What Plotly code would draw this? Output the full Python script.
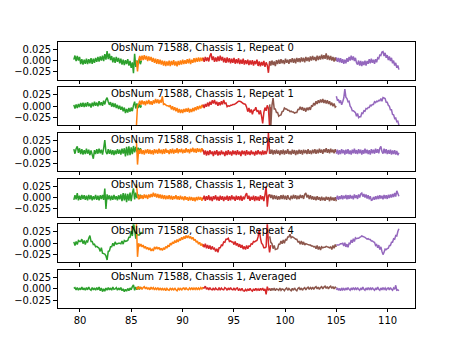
import numpy as np
import plotly.graph_objects as go

# Frequency ranges (GHz) covered by the five bands
SEG_START = [79.4, 85.5, 92.0, 98.5, 105.0]
SEG_END = [86.0, 92.0, 98.6, 105.0, 111.1]
COLORS = ["#2ca02c", "#ff7f0e", "#d62728", "#8c564b", "#9467bd"]
LABELS = ["ObsNum 71588, Chassis 1, Repeat 0", "ObsNum 71588, Chassis 1, Repeat 1",
          "ObsNum 71588, Chassis 1, Repeat 2", "ObsNum 71588, Chassis 1, Repeat 3",
          "ObsNum 71588, Chassis 1, Repeat 4", "ObsNum 71588, Chassis 1, Averaged"]
X_TICKS = [80, 85, 90, 95, 100, 105, 110]
Y_TICKS = [-0.025, 0.0, 0.025]
Y_TICKTEXT = ["\u22120.025", "0.000", "0.025"]
Y_UNIT = 1e-3  # values below are in units of 1e-3

# Repeat 0
rep0_green = [2, 11, -1, 10, 0, 8, -8, 3, -9, 2, -7, 4, -8, 3, -6, 5, -7, 4, -5, 6,
              -3, 8, -2, 9, 0, 11, -1, 14, 2, 21, 3, 15, 1, 10, -4, 7, -5, 8, -3, 6,
              -6, 4, -9, 2, -10, 1, -8, 3, -11, -1, -16, -4, -28, 15, -14, 0, -9, 3, -8, 0]
rep0_orange = [0, -24, 1, 10, 0, 11, 1, 12, 2, 10, -1, 9, 0, 8, -3, 6, -5, 4, -7, 3,
               -8, 2, -9, 0, -11, -1, -12, -2, -11, 0, -12, -1, -10, 1, -11, -2, -13, -1, -10, 0,
               -9, 2, -8, 1, -7, 3, -6, 4, -8, 2, -5, 5, -4, 6, -3, 7, -2, 6, -1, 7]
rep0_red = [6, -3, 8, -1, 7, -2, 10, 16, 1, 9, -3, 7, -2, 9, -1, 11, 0, 8, -4, 6,
            -5, 7, -4, 5, -6, 4, -5, 6, -7, 3, -6, 5, -8, 2, -7, 4, -9, 1, -8, 2,
            -10, 0, -9, 1, -11, -1, -8, 2, -12, -2, -13, -3, -11, -1, -14, -4, -10, -27, -2, -10]
rep0_brown = [-1, -11, 0, -10, -2, -12, 1, -8, 2, -7, 3, -6, 1, -8, 4, -5, 2, -7, 3, -4,
              5, -5, 4, -6, 6, -3, 5, -4, 7, -2, 6, -4, 8, -1, 7, -2, 9, 0, 10, 1,
              8, -1, 11, 1, 10, 2, 13, 3, 12, 4, 16, 2, 11, 1, 10, 0, 8, -2, 7, -1]
rep0_purple = [7, -3, 6, -4, 5, -5, 3, -7, 2, -6, 5, -3, 8, 0, 11, 1, 9, -1, 6, -5,
               -9, 0, -11, -1, -12, -2, -10, 0, -11, -1, -7, 3, -6, 4, -5, 2, -7, 3, -4, 6,
               4, 12, 11, 19, 20, 10, 17, 6, 12, 1, 9, -1, 6, -6, 0, -11, -5, -16, -11, -20]

# Repeat 1
rep1_green = [3, -5, 4, -4, 5, -2, 7, -1, 8, -2, 7, -1, 9, 0, 6, -3, 8, 0, 10, 1,
              8, 0, 11, 2, 9, 1, 12, 4, 14, 19, 10, 3, 9, -1, 7, -2, 6, -4, 3, -6,
              1, -8, -1, -11, -3, -15, -6, -14, -4, -12, -3, -11, 2, 10, -5, 6, -4, 5, -3, 2]
rep1_orange = [-45, 2, 4, 12, 3, 13, 4, 11, 2, 12, 5, 14, 4, 11, 3, 13, 6, 16, 7, 15,
               6, 14, 8, 22, 4, 5, 3, 1, 1, -1, 2, -7, 0, -9, -2, -11, -4, -14, -6, -15,
               -7, -15, -6, -13, -5, -12, -4, -14, -6, -13, -4, -11, -2, -9, 0, -7, 1, -5, 3, -3]
rep1_red = [4, -4, 5, -1, 8, 0, 10, 3, 13, 6, 14, 4, 10, 1, 9, 2, 11, 4, 14, 6,
            7, -1, 1, 0, 2, 2, 4, 4, 5, 7, 9, 11, 11, 10, 8, 6, 5, 4, -2, -12,
            -4, -14, -7, -18, -9, -9, -2, -11, -10, -18, -9, -22, -38, -14, -3, -10, 2, -5, -45, -2]
rep1_brown = [4, -45, 2, 18, -6, -6, -14, -14, -22, -20, -19, -12, -11, -4, -6, -6, -9, -9, -12, -11,
              -13, -13, -15, -14, -14, -7, -7, -1, -8, -2, -10, -4, -12, -3, -9, -2, -8, 1, 0, 7,
              2, 11, 5, 13, 7, 15, 8, 16, 7, 14, 6, 13, 5, 11, 2, 8, 0, 6, -2, 0]
rep1_purple = [22, 13, 14, 7, 13, 3, 10, 18, 38, 20, 17, 10, 11, 0, -3, -10, -10, -12, -14, -22,
               -16, -25, -23, -23, -15, -16, -10, -11, -5, -6, -3, -3, 2, 1, 4, 4, 10, 8, 11, 10,
               13, 12, 17, 11, 19, 18, 17, 9, 9, 2, 0, -8, -8, -18, -19, -27, -26, -34, -33, -42]

# Repeat 2
rep2_green = [6, -4, 7, 12, -2, 8, -5, 6, -6, 4, -5, 7, -4, 5, -7, 3, -6, -15, 4, -5,
              6, -4, 7, -3, 5, -6, 8, 26, 0, -5, 6, -4, 5, -6, 4, -7, 3, -5, 6, -4,
              5, -6, 7, -4, 8, -10, 11, -8, 12, -7, 10, -5, 13, -1, 11, 0, 9, 1, 8, 0]
rep2_orange = [25, -28, 5, -4, 6, -5, 4, -6, 5, -3, 6, -4, 5, -5, 4, -6, 6, -3, 5, -4,
               7, -3, 5, -5, 6, -4, 7, -2, 4, -5, 6, -3, 7, -4, 5, -2, 8, -3, 6, -1,
               7, -3, 5, -2, 8, -1, 6, -3, 7, 0, 9, -1, 7, -2, 8, 0, 7, -1, 8, 1]
rep2_red = [5, -6, 3, -8, 2, -7, 4, -5, 1, -9, 2, -6, 4, -8, 1, -7, 3, -5, 0, -9,
            2, -7, 4, -6, 1, -8, 3, -5, 2, -7, 4, -6, 1, -9, 3, -5, 2, -8, 4, -6,
            1, -7, 3, -5, 0, -8, 2, -6, 4, -5, 1, -7, 3, -6, 2, -5, 4, 42, -4, 2]
rep2_brown = [6, -4, 5, -6, 4, -5, 5, -4, 3, -7, 4, -5, 5, -6, 3, -4, 6, -5, 2, -6,
              5, -4, 4, -7, 3, -5, 5, -4, 4, -6, 5, -3, 4, -5, 6, -4, 3, -5, 5, -3,
              6, -4, 5, -3, 7, -2, 5, -4, 6, -1, 8, -2, 6, -3, 7, -1, 5, -3, 6, -1]
rep2_purple = [-4, 5, -6, 4, -5, 6, -3, 4, -6, 5, -4, 6, -5, 3, -6, 5, -3, 7, -4, 4,
               -5, 6, -3, 5, -6, 4, -4, 7, -3, 5, -5, 4, -6, 6, -3, 5, -4, 7, -2, 6,
               -3, 8, 12, 1, -4, 7, -3, 6, -5, 4, -4, 5, -6, 3, -5, 4, -6, 2, -7, -2]

# Repeat 3
rep3_green = [-5, 5, -4, 10, -6, 4, -5, 6, -3, 5, -5, 4, -6, 6, -4, 5, -6, 3, -4, 6,
              -5, 4, -6, 5, -3, 6, -5, 20, -25, 7, -4, 5, -6, 4, -5, 6, -4, 3, -6, 5,
              -4, 7, -8, 10, -6, 9, -10, 8, -7, 11, -8, 10, 20, -4, 11, -1, 7, -3, 6, -1]
rep3_orange = [30, 5, -4, 6, -2, 5, -3, 7, -1, 6, -3, 7, 0, 8, 1, 11, 2, 9, 0, 8,
               -1, 7, -2, 6, -3, 5, -4, 4, -3, 5, -4, 4, -5, 3, -3, 5, -4, 3, -5, 4,
               -4, 2, -6, 3, -5, 1, -7, 2, -6, 1, -7, 0, -8, 1, -6, 2, -5, 1, -7, 0]
rep3_red = [-4, 4, -7, 3, -5, 5, -6, 2, -8, 3, -4, 5, -6, 2, -7, 4, -5, 3, -8, 2,
            -5, 4, -7, 3, -6, 5, -4, 2, -7, 4, -5, 3, -6, 4, -7, 2, -4, 5, 10, -3,
            4, -7, 2, -5, 4, -8, 3, -6, 2, -7, 5, -4, 3, -8, 6, 25, -20, 5, 6, 0]
rep3_brown = [7, -1, 6, -4, 5, -3, 4, -5, 3, -4, 5, -3, 6, -4, 4, -5, 5, -2, -4, 4,
              -3, 6, -2, 5, -4, 4, -3, 6, -1, 5, -3, 7, 10, 0, 6, -3, 5, -4, 3, -5,
              2, -6, 3, -5, 1, -7, 2, -6, 0, -7, 2, -5, 1, -8, 2, -6, 0, -7, 1, -8]
rep3_purple = [-4, 4, -5, 3, -3, 5, -4, 4, -2, 6, -4, 5, -3, 6, -2, 4, -4, 7, -1, 5,
               -3, 7, 0, 8, 10, 2, 8, 0, 7, -2, 5, -4, 3, -6, -5, 1, -5, 3, -4, 4,
               -3, 5, -2, 4, -4, 6, -2, 5, -3, 6, -1, 7, 0, 8, 1, 10, 2, 15, 9, 3]

# Repeat 4
rep4_green = [3, -5, 4, -3, 6, 4, 4, 9, -1, 6, -3, 5, 3, 11, 17, 4, 4, -3, -2, -8,
              -7, -9, -11, -18, -10, -22, -23, -24, -28, -37, -18, -17, -8, -8, 0, -6, 3, -2, -1, 0,
              0, -1, 5, -2, 6, 4, 5, 6, 13, 13, 27, 16, 45, 30, 10, 20, 18, 18, 21, 25]
rep4_orange = [45, -30, 0, -7, -2, -8, -4, -11, -7, -13, -9, -15, -10, -17, -13, -17, -8, -13, -8, -13,
               -9, -15, -11, -16, -10, -14, -7, -11, -4, -8, 0, -4, 3, -1, 6, 1, 8, 3, 10, 6,
               13, 8, 15, 10, 17, 12, 17, 11, 15, 9, 13, 6, 9, 2, 5, -2, 2, -5, -1, -8]
rep4_red = [-2, -9, -1, -11, -4, -12, -5, -14, -7, -13, -11, -18, -12, -20, -10, -10, -4, -5, 3, 2,
            9, 9, 11, 4, 5, 3, 3, -3, 4, -5, 0, -8, -2, -10, -4, -13, -7, -14, -5, -12,
            -6, -7, -1, -2, 4, 3, 5, 6, 14, 30, 12, 0, -3, -10, -10, -8, 45, 0, -20, -4]
rep4_brown = [15, 2, -1, -12, -5, -14, -13, -12, -2, -2, 5, -1, 7, 0, 8, 7, 14, 14, 20, 12,
              14, 13, 11, 9, 9, 3, 4, -2, 5, -3, 3, -4, -1, -2, -3, -4, -4, -6, -6, -8,
              -7, -12, -5, -14, -7, -15, -8, -10, -9, -9, -7, -8, -9, -10, -8, -14, -5, -11, -3, -8]
rep4_purple = [-3, -4, -4, -3, -1, -1, 0, -6, 1, -8, -2, -9, 0, -1, 7, 1, 10, 4, 12, 10,
               11, 11, 13, 14, 16, 15, 14, 13, 11, 9, 10, 8, 8, 5, 5, 3, 2, -5, -3, -10,
               -4, -14, -8, -18, -25, -20, -13, -14, -12, -11, -5, -5, 2, 2, 10, 9, 17, 16, 26, 32]

# Averaged
avg_green = [1, 3, -2, 3, -3, 2, -2, 4, -2, 2, -3, 3, -2, 4, -1, -3, 3, -2, 2, -3,
             3, -2, 4, -4, 2, -6, 0, -5, 2, -3, 3, -2, 2, -3, 4, -1, 0, 3, -3, 2,
             -2, 3, -4, 0, -6, -1, -5, 1, -4, 2, -2, 5, 9, -3, 4, -2, 5, -1, 4, 0]
avg_orange = [4, -1, 5, 0, 4, -1, 3, 5, 0, 4, -1, 3, -2, 4, 0, 3, -2, 2, -1, 3,
              -3, 2, -2, 1, -3, 2, -4, 1, -2, -3, 2, -2, 1, -3, 2, -2, -4, 1, -2, 2,
              -3, 1, 2, -2, 3, -1, -2, 2, -1, 3, -2, 2, -1, 3, -2, 2, -1, 3, 0, 4]
avg_red = [2, 2, 6, -1, 3, -2, 3, -1, -2, 2, -3, 2, -1, -2, 3, -3, 2, -1, -2, 3,
           1, -3, 2, -2, 3, -1, -2, 2, -3, 1, 2, -4, 0, -3, 1, -4, -5, -1, -5, 0,
           -4, 1, -3, -5, 0, -4, 1, -3, 0, -4, 1, -3, 2, -4, 0, -12, 5, -3, 0, -1]
avg_brown = [0, -4, 1, -3, 2, -4, 0, -1, -3, 2, -3, 0, -1, -4, 0, 2, -3, 1, -2, -4,
             1, -3, 2, -2, -4, 1, 3, -2, 2, -3, 1, 3, -2, 2, 4, -1, 3, 0, 4, -1,
             3, 5, 0, 4, -1, 3, 5, 0, 4, 6, 1, 5, 0, 4, 6, 1, 5, 0, 4, 2]
avg_purple = [-2, 2, -3, 1, -4, 2, -2, 1, -3, 2, -2, 3, -1, -3, 2, -2, 3, -1, 2, -2,
              3, -1, -3, 2, -2, 4, -1, -3, 2, -2, 3, -1, 2, -2, 3, -1, -3, 2, -2, 4,
              -1, -3, 2, -2, 3, -1, 2, -3, 1, 2, -2, 3, -1, -3, 2, -1, 8, -3, -2, -4]

PANELS = [
    [rep0_green, rep0_orange, rep0_red, rep0_brown, rep0_purple],
    [rep1_green, rep1_orange, rep1_red, rep1_brown, rep1_purple],
    [rep2_green, rep2_orange, rep2_red, rep2_brown, rep2_purple],
    [rep3_green, rep3_orange, rep3_red, rep3_brown, rep3_purple],
    [rep4_green, rep4_orange, rep4_red, rep4_brown, rep4_purple],
    [avg_green, avg_orange, avg_red, avg_brown, avg_purple],
]

W, H = 461, 346
FONT = dict(family="DejaVu Sans", size=10, color="black")
X_RANGE = [77.82, 112.66]
Y_RANGE = [-0.042, 0.042]

fig = go.Figure()
n = len(PANELS)
top, bottom = 0.88, 0.11
h = (top - bottom) / (n + (n - 1) * 0.2)
g = 0.2 * h

layout = dict(width=W, height=H, margin=dict(l=0, r=0, t=0, b=0),
              paper_bgcolor="white", plot_bgcolor="white", font=FONT,
              showlegend=False, annotations=[])

for p, segs in enumerate(PANELS):
    sfx = "" if p == 0 else str(p + 1)
    for s, vals in enumerate(segs):
        x = np.linspace(SEG_START[s], SEG_END[s], len(vals))
        y = np.array(vals, dtype=float) * Y_UNIT
        fig.add_trace(go.Scatter(x=x, y=y, mode="lines",
                                 line=dict(color=COLORS[s], width=1.5, simplify=False),
                                 xaxis="x" + sfx, yaxis="y" + sfx,
                                 hoverinfo="skip", showlegend=False))
    y1 = top - p * (h + g)
    y0 = y1 - h
    common = dict(showline=True, mirror=True, linecolor="black", linewidth=0.8,
                  ticks="outside", ticklen=3.5, tickwidth=0.8, tickcolor="black",
                  showgrid=False, zeroline=False, tickfont=FONT)
    layout["xaxis" + sfx] = dict(domain=[0.125, 0.9], anchor="y" + sfx, range=X_RANGE,
                                 tickmode="array", tickvals=X_TICKS,
                                 ticktext=[str(v) for v in X_TICKS],
                                 showticklabels=(p == n - 1), **common)
    layout["yaxis" + sfx] = dict(domain=[y0, y1], anchor="x" + sfx, range=Y_RANGE,
                                 tickmode="array", tickvals=Y_TICKS, ticktext=Y_TICKTEXT,
                                 **common)
    layout["annotations"].append(dict(text=LABELS[p], xref="x" + sfx, yref="y" + sfx,
                                      x=82.8, y=0.025, xanchor="left", yanchor="bottom",
                                      yshift=-6, showarrow=False, font=FONT))

fig.update_layout(**layout)
fig.write_html("out.html")
